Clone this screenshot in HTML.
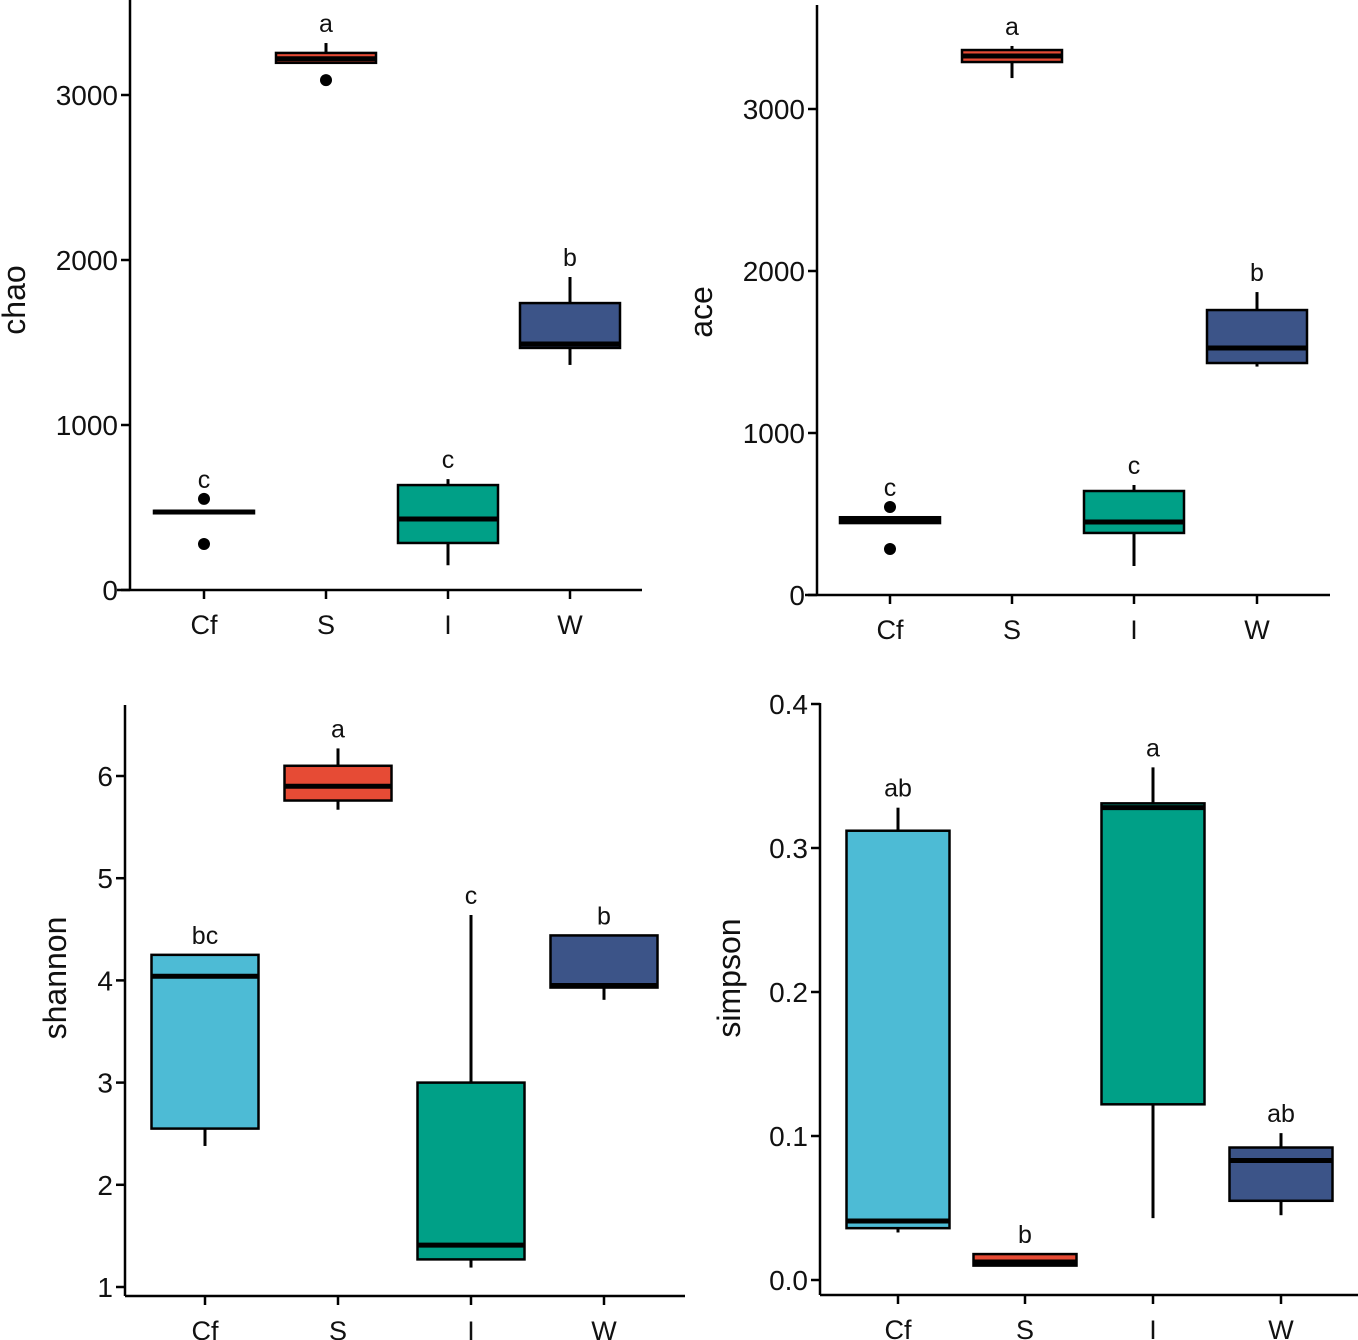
<!DOCTYPE html>
<html><head><meta charset="utf-8">
<style>body{margin:0;background:#fff}svg{display:block;font-family:"Liberation Sans",Arial,sans-serif}</style>
</head><body>
<svg id="chart" width="1358" height="1340" viewBox="0 0 1358 1340" xmlns="http://www.w3.org/2000/svg"></svg>
<script>
const categories = ["Cf","S","I","W"];
const colors = ["#4dbbd5","#e64b35","#00a087","#3c5488"];
// each box: [whiskerLow, q1, median, q3, whiskerHigh]
const chaoBoxes = [[465,465,473,480,480],[3195,3195,3220,3255,3315],[150,285,430,636,672],[1364,1467,1491,1739,1897]];
const chaoOutliers = [[552,279],[3090],[],[]];
const chaoLetters = ["c","a","c","b"];
const chaoTicks = [0,1000,2000,3000];
const aceBoxes = [[444,444,460,480,480],[3191,3290,3327,3364,3389],[179,383,451,642,679],[1410,1432,1525,1759,1870]];
const aceOutliers = [[543,284],[],[],[]];
const aceLetters = ["c","a","c","b"];
const aceTicks = [0,1000,2000,3000];
const shannonBoxes = [[2.38,2.55,4.04,4.25,4.25],[5.67,5.76,5.90,6.10,6.27],[1.19,1.27,1.41,3.0,4.64],[3.81,3.93,3.95,4.44,4.44]];
const shannonOutliers = [[],[],[],[]];
const shannonLetters = ["bc","a","c","b"];
const shannonTicks = [1,2,3,4,5,6];
const simpsonBoxes = [[0.033,0.036,0.041,0.312,0.328],[0.010,0.010,0.0125,0.018,0.018],[0.043,0.122,0.328,0.331,0.356],[0.045,0.055,0.083,0.092,0.102]];
const simpsonOutliers = [[],[],[],[]];
const simpsonLetters = ["ab","b","a","ab"];
const simpsonTicks = ["0.0","0.1","0.2","0.3","0.4"];

const svg = document.getElementById('chart');
const NS = "http://www.w3.org/2000/svg";
function mk(tag, attrs, parent){const e=document.createElementNS(NS,tag);for(const k in attrs)e.setAttribute(k,attrs[k]);parent.appendChild(e);return e;}

function panel(cfg){
  const g = mk('g',{},svg);
  
  
  const y = v => cfg.y0 - (v - cfg.v0) * cfg.scale;
  const x = i => cfg.cx[i];
  const ya = mk('line',{x1:cfg.ax,y1:cfg.yTop,x2:cfg.ax,y2:cfg.axY,stroke:'#000','stroke-width':2.5},g);
  
  
  const xa = mk('line',{x1:cfg.xStart,y1:cfg.axY,x2:cfg.xEnd,y2:cfg.axY,stroke:'#000','stroke-width':2.5},g);
  
  
  cfg.ticks.forEach(t=>{
    const v=parseFloat(t), yy=y(v);
    mk('line',{x1:cfg.ax-9,y1:yy,x2:cfg.ax,y2:yy,stroke:'#000','stroke-width':2.5},g);
    const tx=mk('text',{x:cfg.ax-12,y:yy+10,'text-anchor':'end','font-size':28,fill:'#111'},g);
    tx.textContent=t;
    
    
  });
  const lab=mk('text',{x:0,y:0,'text-anchor':'middle','font-size':32,fill:'#111',transform:`translate(${cfg.labX},${cfg.labY}) rotate(-90)`},g);
  lab.textContent=cfg.name;
  
  
  categories.forEach((c,i)=>{
    const xx=x(i);
    mk('line',{x1:xx,y1:cfg.axY,x2:xx,y2:cfg.axY+9,stroke:'#000','stroke-width':2.5},g);
    const tx=mk('text',{x:xx,y:cfg.axY+44,'text-anchor':'middle','font-size':27,fill:'#111'},g);
    tx.textContent=c;
    
    
    const b=cfg.boxes[i], hw=cfg.bw/2;
    const bg=mk('g',{},g);
    
    
    mk('line',{x1:xx,y1:y(b[4]),x2:xx,y2:y(b[3]),stroke:'#000','stroke-width':3},bg);
    mk('line',{x1:xx,y1:y(b[1]),x2:xx,y2:y(b[0]),stroke:'#000','stroke-width':3},bg);
    mk('rect',{x:xx-hw,y:y(b[3]),width:cfg.bw,height:Math.max(0.5,y(b[1])-y(b[3])),fill:colors[i],stroke:'#000','stroke-width':2.5},bg);
    mk('line',{x1:xx-hw,y1:y(b[2]),x2:xx+hw,y2:y(b[2]),stroke:'#000','stroke-width':5},bg);
    cfg.outliers[i].forEach(o=>{
      const p=mk('circle',{cx:xx,cy:y(o),r:6,fill:'#000'},bg);
      
      
    });
    const top=Math.max(b[4],b[3],...cfg.outliers[i]);
    const lt=mk('text',{x:xx,y:y(top)-11,'text-anchor':'middle','font-size':25,fill:'#111'},bg);
    lt.textContent=cfg.letters[i];
    
    
  });
}
panel({name:'chao',boxes:chaoBoxes,outliers:chaoOutliers,letters:chaoLetters,ticks:chaoTicks,v0:0,y0:590,scale:0.165,ax:130,yTop:0,axY:590,xStart:117,xEnd:642,cx:[204,326,448,570],bw:100,labX:25,labY:300});
panel({name:'ace',boxes:aceBoxes,outliers:aceOutliers,letters:aceLetters,ticks:aceTicks,v0:0,y0:595,scale:0.162,ax:817,yTop:5,axY:595,xStart:805,xEnd:1330,cx:[890,1012,1134,1257],bw:100,labX:712,labY:312});
panel({name:'shannon',boxes:shannonBoxes,outliers:shannonOutliers,letters:shannonLetters,ticks:shannonTicks,v0:1,y0:1287,scale:102.2,ax:125,yTop:705,axY:1296,xStart:125,xEnd:685,cx:[205,338,471,604],bw:107,labX:66,labY:978});
panel({name:'simpson',boxes:simpsonBoxes,outliers:simpsonOutliers,letters:simpsonLetters,ticks:simpsonTicks,v0:0,y0:1280,scale:1440,ax:820,yTop:703,axY:1295,xStart:820,xEnd:1358,cx:[898,1025,1153,1281],bw:103,labX:740,labY:978});
</script>
</body></html>
